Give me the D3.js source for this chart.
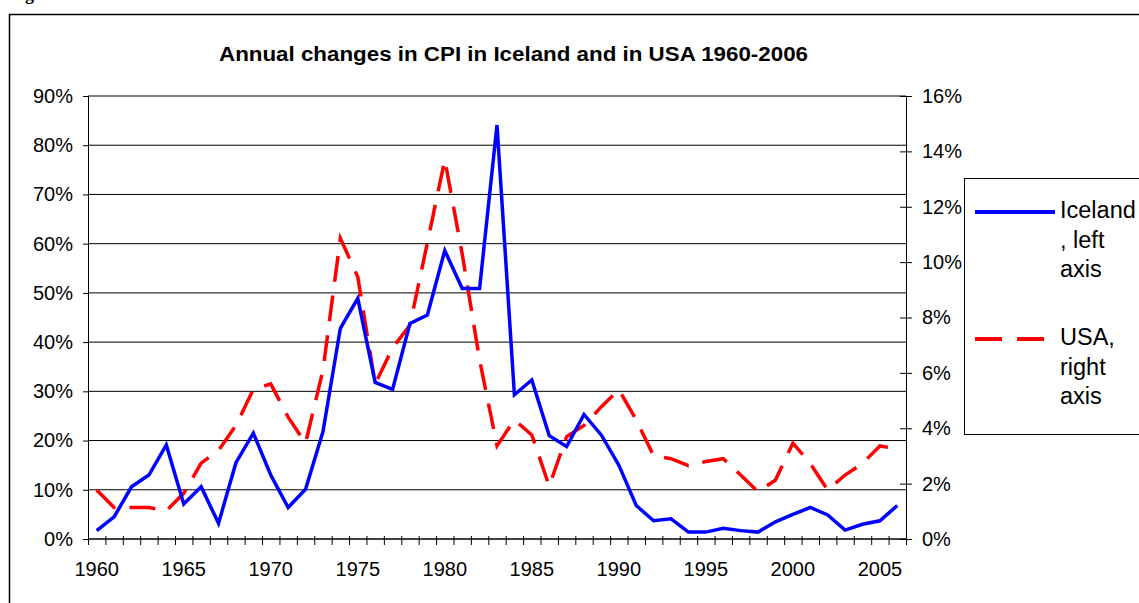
<!DOCTYPE html>
<html>
<head>
<meta charset="utf-8">
<script src="https://cdn.jsdelivr.net/npm/d3@7"></script>
<style>
  body { margin: 0; background: #fff; }
  text { font-family: "Liberation Sans", Arial, sans-serif; }
</style>
</head>
<body>
<div id="chart"></div>
<script>
// years on the category axis
var years = [1960, 1961, 1962, 1963, 1964, 1965, 1966, 1967, 1968, 1969,
             1970, 1971, 1972, 1973, 1974, 1975, 1976, 1977, 1978, 1979,
             1980, 1981, 1982, 1983, 1984, 1985, 1986, 1987, 1988, 1989,
             1990, 1991, 1992, 1993, 1994, 1995, 1996, 1997, 1998, 1999,
             2000, 2001, 2002, 2003, 2004, 2005, 2006];
var yearLabels = [1960, 1965, 1970, 1975, 1980, 1985, 1990, 1995, 2000, 2005];

// Iceland, left axis (%)
var iceland = [1.7, 4.5, 10.6, 13.0, 19.1, 7.1, 10.6, 3.2, 15.5, 21.5,
               13.0, 6.4, 10.1, 21.8, 42.8, 48.9, 31.8, 30.4, 43.8, 45.5,
               58.6, 50.9, 50.9, 84.1, 29.3, 32.3, 21.0, 18.8, 25.3, 21.1,
               15.0, 6.8, 3.7, 4.1, 1.4, 1.4, 2.2, 1.7, 1.4, 3.5,
               5.0, 6.4, 4.9, 1.8, 3.0, 3.7, 6.8];

// USA, right axis (%)
var usa = [1.77, 1.14, 1.14, 1.14, 1.02, 1.65, 2.74, 3.2, 4.1, 5.4,
           5.6, 4.4, 3.46, 6.1, 10.86, 9.47, 5.6, 6.9, 7.73, 10.7,
           13.7, 10.3, 6.47, 3.37, 4.3, 3.76, 1.91, 3.7, 4.1, 4.78,
           5.4, 4.3, 3.0, 2.9, 2.65, 2.8, 2.9, 2.31, 1.71, 2.13,
           3.46, 2.73, 1.77, 2.31, 2.73, 3.36, 3.25];

var leftTicks = [0, 10, 20, 30, 40, 50, 60, 70, 80, 90];
var rightTicks = [0, 2, 4, 6, 8, 10, 12, 14, 16];

var title = 'Annual changes in CPI in Iceland and in USA 1960-2006';
var legendItems = [
    { name: 'iceland', lines: ['Iceland', ', left', 'axis'], color: '#0000ff', dash: null },
    { name: 'usa', lines: ['USA,', 'right', 'axis'], color: '#ff0000', dash: '27,15' }
];

var width = 1139, height = 603;
var plot = { left: 88, top: 96, width: 818, height: 443 };
var labelFont = '20px';

var svg = d3.select('#chart')
    .append('svg')
    .attr('width', width)
    .attr('height', height);

// outer frame, cut off by the window
svg.append('path')
    .attr('d', `M9.5,${height} V14.5 H${width}`)
    .attr('fill', 'none')
    .attr('stroke', '#000')
    .attr('stroke-width', 1.5);

// caption above the frame, only its descender shows
svg.append('text')
    .attr('x', 9)
    .attr('y', -0.5)
    .style('font-family', '"Liberation Serif", serif')
    .style('font-weight', 700)
    .style('font-size', '18px')
    .text('Figure');

svg.append('text')
    .attr('x', 219)
    .attr('y', 61)
    .attr('textLength', 589)
    .attr('lengthAdjust', 'spacingAndGlyphs')
    .style('font-weight', 700)
    .style('font-size', '20px')
    .text(title);

var x = d3.scaleBand()
    .domain(years)
    .range([plot.left, plot.left + plot.width])
    .padding(0);

var xEdges = d3.scaleLinear()
    .domain([0, years.length])
    .range([plot.left, plot.left + plot.width]);

var yLeft = d3.scaleLinear()
    .domain([0, 90])
    .range([plot.top + plot.height, plot.top]);

var yRight = d3.scaleLinear()
    .domain([0, 16])
    .range([plot.top + plot.height, plot.top]);

var cx = d => x(d) + x.bandwidth() / 2;

// gridlines
svg.append('g')
    .selectAll('line')
    .data(leftTicks)
    .enter()
    .append('line')
    .attr('x1', plot.left)
    .attr('x2', plot.left + plot.width)
    .attr('y1', d => yLeft(d))
    .attr('y2', d => yLeft(d))
    .attr('stroke', '#000')
    .attr('stroke-width', 1);

// left axis
var gLeft = svg.append('g')
    .attr('transform', `translate(${plot.left},0)`)
    .call(d3.axisLeft(yLeft).tickValues(leftTicks).tickSize(5).tickPadding(10).tickFormat(d => d + '%'));
gLeft.selectAll('text').style('font-size', labelFont).style('font-family', '"Liberation Sans", Arial, sans-serif');

// right axis
var gRight = svg.append('g')
    .attr('transform', `translate(${plot.left + plot.width},0)`)
    .call(d3.axisRight(yRight).tickValues(rightTicks).tickSize(6).tickPadding(10).tickFormat(d => d + '%'));
gRight.selectAll('.tick line').attr('x1', -6);
gRight.selectAll('text').style('font-size', labelFont).style('font-family', '"Liberation Sans", Arial, sans-serif');

// bottom axis: ticks between categories
var gBottom = svg.append('g')
    .attr('transform', `translate(0,${plot.top + plot.height})`)
    .call(d3.axisBottom(xEdges).tickValues(d3.range(years.length + 1)).tickSize(6).tickFormat(''));
gBottom.selectAll('.tick line').attr('y1', -3);
gBottom.select('.domain').attr('d', `M${plot.left},0H${plot.left + plot.width}`);

var gLabels = svg.append('g')
    .attr('transform', `translate(0,${plot.top + plot.height})`)
    .call(d3.axisBottom(x).tickValues(yearLabels).tickSize(0).tickPadding(0));
gLabels.select('.domain').remove();
gLabels.selectAll('text')
    .attr('dy', null)
    .attr('y', 37)
    .style('font-size', labelFont)
    .style('font-family', '"Liberation Sans", Arial, sans-serif');

svg.selectAll('.domain, .tick line').attr('stroke', '#000');

// series
var lineLeft = d3.line()
    .x((d, i) => cx(years[i]))
    .y(d => yLeft(d));

var lineRight = d3.line()
    .x((d, i) => cx(years[i]))
    .y(d => yRight(d));

svg.append('path')
    .datum(usa)
    .attr('d', lineRight)
    .attr('fill', 'none')
    .attr('stroke', '#ff0000')
    .attr('stroke-width', 3.5)
    .attr('stroke-dasharray', '26,14');

svg.append('path')
    .datum(iceland)
    .attr('d', lineLeft)
    .attr('fill', 'none')
    .attr('stroke', '#0000ff')
    .attr('stroke-width', 3.5)
    .attr('stroke-linejoin', 'miter');

// legend
var legend = svg.append('g');
legend.append('rect')
    .attr('x', 964.5)
    .attr('y', 178.5)
    .attr('width', 200)
    .attr('height', 256)
    .attr('fill', '#fff')
    .attr('stroke', '#000')
    .attr('stroke-width', 1);

var legendRows = [212, 339];
legendItems.forEach(function(item, i) {
    var ly = legendRows[i];
    legend.append('line')
        .attr('x1', 975)
        .attr('x2', i === 0 ? 1055 : 1045)
        .attr('y1', ly)
        .attr('y2', ly)
        .attr('stroke', item.color)
        .attr('stroke-width', 4)
        .attr('stroke-dasharray', item.dash);
    legend.selectAll('text.l' + i)
        .data(item.lines)
        .enter()
        .append('text')
        .attr('class', 'l' + i)
        .attr('x', 1060)
        .attr('y', (d, j) => ly + 6 + j * 29.5)
        .style('font-size', '23.5px')
        .text(d => d);
});
</script>
</body>
</html>
